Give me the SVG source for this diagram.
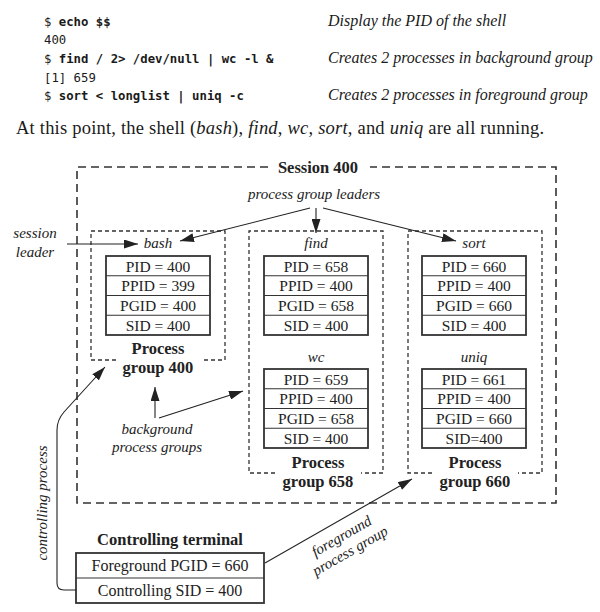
<svg xmlns="http://www.w3.org/2000/svg" width="600" height="612" viewBox="0 0 600 612">
<defs>
<marker id="ah" viewBox="0 0 14 9" refX="14" refY="4.5" markerWidth="14" markerHeight="9" markerUnits="userSpaceOnUse" orient="auto"><path d="M0,0 L14,4.5 L0,9 z" fill="#222"/></marker>
</defs>
<style>
.mono{font-family:"DejaVu Sans Mono","Liberation Mono",monospace;font-size:12.3px;fill:#1a1a1a}
.b{font-weight:bold}
.it{font-family:"Liberation Serif",serif;font-style:italic;font-size:16px;fill:#1a1a1a}
.body{font-family:"Liberation Serif",serif;font-size:18.5px;fill:#1a1a1a}
.i{font-style:italic}
.lbl{font-family:"Liberation Serif",serif;font-style:italic;font-size:15px;fill:#222;text-anchor:middle}
.cell{font-family:"Liberation Serif",serif;font-size:15.5px;fill:#222;text-anchor:middle}
.bold{font-family:"Liberation Serif",serif;font-weight:bold;font-size:16.5px;fill:#222;text-anchor:middle}
.sess{fill:none;stroke:#333;stroke-width:1.6;stroke-dasharray:8 5}
.grp{fill:none;stroke:#333;stroke-width:1.3;stroke-dasharray:4 3}
.tbl{fill:#fff;stroke:#333;stroke-width:1.8}
.div{stroke:#333;stroke-width:1.1}
.con{fill:none;stroke:#222;stroke-width:1.1}
</style>
<rect width="600" height="612" fill="#fff"/>
<g id="header">
<text class="mono" x="44" y="26">$ <tspan class="b">echo $$</tspan></text>
<text class="mono" x="44" y="44">400</text>
<text class="mono" x="44" y="63">$ <tspan class="b">find / 2&gt; /dev/null | wc -l &amp;</tspan></text>
<text class="mono" x="44" y="82">[1] 659</text>
<text class="mono" x="44" y="100">$ <tspan class="b">sort &lt; longlist | uniq -c</tspan></text>
<text class="it" x="328" y="26">Display the PID of the shell</text>
<text class="it" x="328" y="63">Creates 2 processes in background group</text>
<text class="it" x="328" y="100">Creates 2 processes in foreground group</text>
<text class="body" x="16" y="134" textLength="528" lengthAdjust="spacing">At this point, the shell (<tspan class="i">bash</tspan>), <tspan class="i">find</tspan>, <tspan class="i">wc</tspan>, <tspan class="i">sort</tspan>, and <tspan class="i">uniq</tspan> are all running.</text>
</g>
<g id="session">
<path class="sess" d="M268,167 H77 V503 H556 V167 H370"/>
<text class="bold" x="318" y="172.5">Session 400</text>
</g>
<g id="bash">
<path class="grp" d="M116,360 H91 V231 H225 V360 H201"/>
<text class="lbl" x="158" y="248">bash</text>
<rect class="tbl" x="106" y="256" width="104" height="79"/>
<path class="div" d="M106,275.75 H210 M106,295.5 H210 M106,315.25 H210"/>
<text class="cell" x="158" y="271.5">PID = 400</text>
<text class="cell" x="158" y="291">PPID = 399</text>
<text class="cell" x="158" y="311">PGID = 400</text>
<text class="cell" x="158" y="330.5">SID = 400</text>
<text class="bold" x="158" y="354">Process</text>
<text class="bold" x="158" y="373">group 400</text>
</g>
<g id="find-wc">
<path class="grp" d="M275,473 H249 V231 H383 V473 H361"/>
<text class="lbl" x="316" y="248">find</text>
<rect class="tbl" x="264" y="256" width="104" height="79"/>
<path class="div" d="M264,275.75 H368 M264,295.5 H368 M264,315.25 H368"/>
<text class="cell" x="316" y="271.5">PID = 658</text>
<text class="cell" x="316" y="291">PPID = 400</text>
<text class="cell" x="316" y="311">PGID = 658</text>
<text class="cell" x="316" y="330.5">SID = 400</text>
<text class="lbl" x="316" y="362">wc</text>
<rect class="tbl" x="264" y="369" width="104" height="79"/>
<path class="div" d="M264,388.75 H368 M264,408.5 H368 M264,428.25 H368"/>
<text class="cell" x="316" y="384.5">PID = 659</text>
<text class="cell" x="316" y="404">PPID = 400</text>
<text class="cell" x="316" y="424">PGID = 658</text>
<text class="cell" x="316" y="443.5">SID = 400</text>
<text class="bold" x="318" y="468">Process</text>
<text class="bold" x="318" y="487">group 658</text>
</g>
<g id="sort-uniq">
<path class="grp" d="M432,473 H408 V231 H542 V473 H518"/>
<text class="lbl" x="474" y="248">sort</text>
<rect class="tbl" x="422" y="256" width="104" height="79"/>
<path class="div" d="M422,275.75 H526 M422,295.5 H526 M422,315.25 H526"/>
<text class="cell" x="474" y="271.5">PID = 660</text>
<text class="cell" x="474" y="291">PPID = 400</text>
<text class="cell" x="474" y="311">PGID = 660</text>
<text class="cell" x="474" y="330.5">SID = 400</text>
<text class="lbl" x="474" y="362">uniq</text>
<rect class="tbl" x="422" y="369" width="104" height="79"/>
<path class="div" d="M422,388.75 H526 M422,408.5 H526 M422,428.25 H526"/>
<text class="cell" x="474" y="384.5">PID = 661</text>
<text class="cell" x="474" y="404">PPID = 400</text>
<text class="cell" x="474" y="424">PGID = 660</text>
<text class="cell" x="474" y="443.5">SID=400</text>
<text class="bold" x="475" y="468">Process</text>
<text class="bold" x="475" y="487">group 660</text>
</g>
<g id="terminal">
<text class="bold" x="170" y="545">Controlling terminal</text>
<rect class="tbl" x="76" y="553" width="188" height="50"/>
<path class="div" d="M76,578 H264"/>
<text class="cell" x="170" y="571" style="font-size:16px">Foreground PGID = 660</text>
<text class="cell" x="170" y="596" style="font-size:16px">Controlling SID = 400</text>
</g>
<g id="labels">
<text class="lbl" x="314" y="199">process group leaders</text>
<text class="lbl" x="35" y="238">session</text>
<text class="lbl" x="35" y="257">leader</text>
<text class="lbl" x="157" y="434">background</text>
<text class="lbl" x="157" y="452">process groups</text>
<text class="lbl" transform="translate(47,503) rotate(-90)">controlling process</text>
<g transform="translate(342,537) rotate(-30)">
<text class="lbl" y="4">foreground</text>
<text class="lbl" y="21">process group</text>
</g>
</g>
<g id="connectors">
<path class="con" marker-end="url(#ah)" d="M310,208 L180,241"/>
<path class="con" marker-end="url(#ah)" d="M316,208 V233"/>
<path class="con" marker-end="url(#ah)" d="M323,208 L456,241"/>
<path class="con" marker-end="url(#ah)" d="M67,244 H138"/>
<path class="con" marker-end="url(#ah)" d="M155,418 V387"/>
<path class="con" marker-end="url(#ah)" d="M159,418 L243,391"/>
<path class="con" marker-end="url(#ah)" d="M76,590 H64 Q57,590 57,583 V430 Q57,420 64,412 L105,367"/>
<path class="con" marker-end="url(#ah)" d="M265,563 L412,479"/>
</g>
</svg>
